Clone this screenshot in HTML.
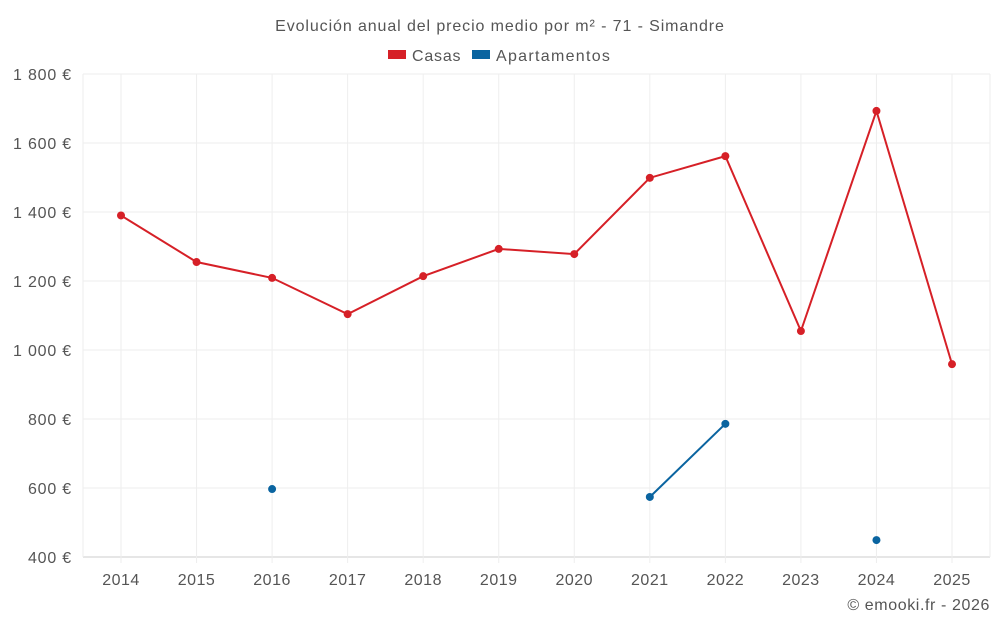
<!DOCTYPE html>
<html><head><meta charset="utf-8"><style>
body{margin:0;background:#fff;font-family:"Liberation Sans",sans-serif;}
svg text{font-family:"Liberation Sans",sans-serif;}
</style></head><body>
<svg id="c" width="1000" height="625">
<text x="500" y="31" text-anchor="middle" font-size="16" letter-spacing="0.9" fill="#555">Evolución anual del precio medio por m² - 71 - Simandre</text>
<g><rect x="388" y="50" width="18" height="9" fill="#d62027"/><text x="412" y="61" font-size="16" letter-spacing="0.8" fill="#555">Casas</text></g>
<g><rect x="472" y="50" width="18" height="9" fill="#0a64a0"/><text x="496" y="61" font-size="16" letter-spacing="1.3" fill="#555">Apartamentos</text></g>
<g id="grid"></g><g id="marks"></g>
<text x="990" y="610" text-anchor="end" font-size="16" letter-spacing="0.6" fill="#555">© emooki.fr - 2026</text>
</svg>
<script>
const years=[2014,2015,2016,2017,2018,2019,2020,2021,2022,2023,2024,2025];
const casas=[1390,1255,1209,1104,1214,1293,1278,1499,1562,1055,1693,959];
const apartamentos=[null,null,597,null,null,null,null,574,786,null,449,null];
const yTicks=[400,600,800,1000,1200,1400,1600,1800];
const yLabels=["400 €","600 €","800 €","1 000 €","1 200 €","1 400 €","1 600 €","1 800 €"];
const NS="http://www.w3.org/2000/svg";
const L=83,R=990,T=74,B=557;
const x=i=>121+i*(952-121)/(years.length-1);
const y=v=>B-(v-400)/1400*(B-T);
const g=document.getElementById('grid'),m=document.getElementById('marks');
function mk(tag,a,p){const e=document.createElementNS(NS,tag);for(const k in a)e.setAttribute(k,a[k]);p.appendChild(e);return e;}
yTicks.forEach((v,i)=>{
 const l=mk('line',{x1:L,x2:R,y1:y(v),y2:y(v),stroke:i==0?'#ccc':'#eee'},g);
 
 
 const t=mk('text',{x:72,y:y(v)+6,'text-anchor':'end','font-size':16,'letter-spacing':0.8,fill:'#555'},g);t.textContent=yLabels[i];
 
 
});
mk('line',{x1:L,x2:L,y1:T,y2:B,stroke:'#eee'},g);mk('line',{x1:R,x2:R,y1:T,y2:B,stroke:'#eee'},g);
years.forEach((yr,i)=>{
 const l=mk('line',{x1:x(i),x2:x(i),y1:T,y2:B+6,stroke:'#eee'},g);
 
 
 const t=mk('text',{x:x(i),y:585,'text-anchor':'middle','font-size':16,'letter-spacing':0.5,fill:'#555'},g);t.textContent=yr;
 
 
});
function series(data,color,name){
 let seg=[];const segs=[];
 data.forEach((v,i)=>{if(v==null){if(seg.length)segs.push(seg);seg=[];}else seg.push([x(i),y(v)]);});
 if(seg.length)segs.push(seg);
 segs.forEach(s=>{if(s.length>1){const p=mk('polyline',{points:s.map(q=>q.join(',')).join(' '),fill:'none',stroke:color,'stroke-width':2},m);
  
  }});
 data.forEach((v,i)=>{if(v==null)return;const c=mk('circle',{cx:x(i),cy:y(v),r:4,fill:color},m);
  
  });
}
series(casas,'#d62027','casas');
series(apartamentos,'#0a64a0','apartamentos');
</script>
</body></html>
